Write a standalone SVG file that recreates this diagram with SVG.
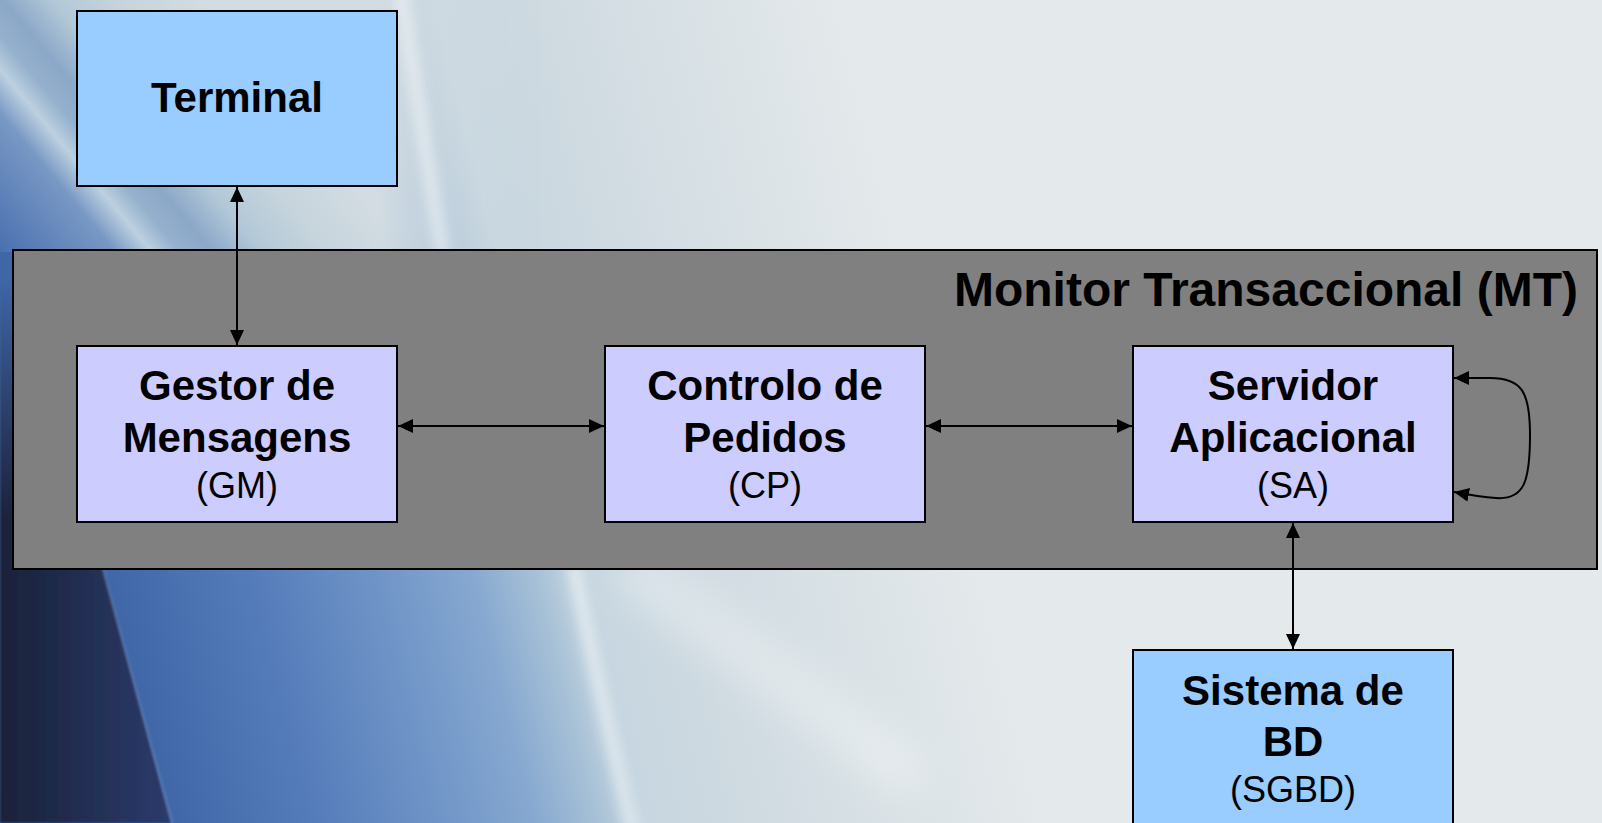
<svg xmlns="http://www.w3.org/2000/svg" width="1602" height="823" viewBox="0 0 1602 823">
  <defs>
    <!-- main tilted backdrop ramp: blue on the left to pale grey on the right -->
    <linearGradient id="bg" gradientUnits="userSpaceOnUse" x1="-50" y1="700" x2="950" y2="450">
      <stop offset="0" stop-color="#3a5e9e"/>
      <stop offset="0.18" stop-color="#4068a8"/>
      <stop offset="0.3" stop-color="#5279b8"/>
      <stop offset="0.42" stop-color="#6c92c6"/>
      <stop offset="0.52" stop-color="#86a8d0"/>
      <stop offset="0.58" stop-color="#a6c0d6"/>
      <stop offset="0.62" stop-color="#c6d6e0"/>
      <stop offset="0.7" stop-color="#cdd9e0"/>
      <stop offset="1" stop-color="#e4e9eb"/>
    </linearGradient>
    <!-- upper-left wash with its diagonal glint -->
    <linearGradient id="topwash" gradientUnits="userSpaceOnUse" x1="0" y1="250" x2="240" y2="50">
      <stop offset="0" stop-color="#4a70b0"/>
      <stop offset="0.28" stop-color="#7898c4"/>
      <stop offset="0.37" stop-color="#bcd0e0"/>
      <stop offset="0.44" stop-color="#94b0cc"/>
      <stop offset="0.52" stop-color="#8ca8c8"/>
      <stop offset="0.64" stop-color="#b2c8d8"/>
      <stop offset="0.8" stop-color="#c6d4dc"/>
      <stop offset="1" stop-color="#d2dce2"/>
    </linearGradient>
    <linearGradient id="fadeX" gradientUnits="userSpaceOnUse" x1="380" y1="0" x2="540" y2="0">
      <stop offset="0" stop-color="#fff"/>
      <stop offset="1" stop-color="#000"/>
    </linearGradient>
    <mask id="topMask" maskUnits="userSpaceOnUse" x="0" y="0" width="1602" height="260">
      <rect x="0" y="0" width="1602" height="260" fill="url(#fadeX)"/>
    </mask>
    <!-- dark navy band in the lower left -->
    <linearGradient id="navy" gradientUnits="userSpaceOnUse" x1="0" y1="0" x2="170" y2="0">
      <stop offset="0" stop-color="#1a2238"/>
      <stop offset="1" stop-color="#2b3b6c"/>
    </linearGradient>
    <linearGradient id="fadeY" gradientUnits="userSpaceOnUse" x1="0" y1="280" x2="0" y2="520">
      <stop offset="0" stop-color="#000"/>
      <stop offset="1" stop-color="#fff"/>
    </linearGradient>
    <mask id="navyMask" maskUnits="userSpaceOnUse" x="0" y="240" width="300" height="600">
      <rect x="0" y="240" width="300" height="600" fill="url(#fadeY)"/>
    </mask>
    <filter id="soft" x="-50%" y="-50%" width="200%" height="200%">
      <feGaussianBlur stdDeviation="6"/>
    </filter>
    <filter id="softer" x="-50%" y="-50%" width="200%" height="200%">
      <feGaussianBlur stdDeviation="18"/>
    </filter>
    <filter id="edge" x="-10%" y="-10%" width="120%" height="120%">
      <feGaussianBlur stdDeviation="1.2"/>
    </filter>
    <marker id="head" viewBox="0 0 15 14" refX="15" refY="7" markerWidth="15" markerHeight="14" markerUnits="userSpaceOnUse" orient="auto-start-reverse">
      <path d="M0,0 L15,7 L0,14 z" fill="#000"/>
    </marker>
  </defs>
  <style>
    .box { stroke: #000; stroke-width: 2; }
    .term { fill: #99ccff; }
    .comp { fill: #ccccff; }
    .mt { fill: #808080; stroke: #000; stroke-width: 2; }
    .b { font-family: "Liberation Sans", Arial, sans-serif; font-weight: bold; font-size: 42px; fill: #000; text-anchor: middle; }
    .r { font-family: "Liberation Sans", Arial, sans-serif; font-size: 36px; fill: #000; text-anchor: middle; }
    .title { font-family: "Liberation Sans", Arial, sans-serif; font-weight: bold; font-size: 48px; fill: #000; text-anchor: end; }
    .link { fill: none; stroke: #000; stroke-width: 2; marker-start: url(#head); marker-end: url(#head); }
    .streak { fill: none; stroke: #ffffff; stroke-linecap: round; }
  </style>

  <!-- backdrop -->
  <g id="backdrop">
    <rect width="1602" height="823" fill="url(#bg)"/>
    <rect x="0" y="0" width="1602" height="252" fill="url(#topwash)" mask="url(#topMask)"/>
    <polygon points="0,250 17,250 171,823 0,823" fill="url(#navy)" mask="url(#navyMask)" filter="url(#edge)"/>
    <path class="streak" d="M103,570 L172,823" stroke-width="3" opacity="0.12" filter="url(#edge)"/>
    <path class="streak" d="M400,-10 C415,80 428,170 442,250" stroke-width="14" opacity="0.45" filter="url(#soft)"/>
    <path class="streak" d="M574,570 C590,650 610,740 632,830" stroke-width="12" opacity="0.5" filter="url(#soft)"/>
    <path class="streak" d="M640,575 C720,630 800,690 900,770" stroke-width="50" opacity="0.3" filter="url(#softer)"/>
  </g>

  <!-- transaction monitor container -->
  <g id="mt">
    <rect class="mt" x="13" y="250" width="1584" height="319"/>
    <text class="title" x="1578" y="306">Monitor Transaccional (MT)</text>
  </g>

  <g id="terminal">
    <rect class="box term" x="77" y="11" width="320" height="175"/>
    <text class="b" x="237" y="112">Terminal</text>
  </g>

  <g id="gm">
    <rect class="box comp" x="77" y="346" width="320" height="176"/>
    <text class="b" x="237" y="400">Gestor de</text>
    <text class="b" x="237" y="452">Mensagens</text>
    <text class="r" x="237" y="498">(GM)</text>
  </g>

  <g id="cp">
    <rect class="box comp" x="605" y="346" width="320" height="176"/>
    <text class="b" x="765" y="400">Controlo de</text>
    <text class="b" x="765" y="452">Pedidos</text>
    <text class="r" x="765" y="498">(CP)</text>
  </g>

  <g id="sa">
    <rect class="box comp" x="1133" y="346" width="320" height="176"/>
    <text class="b" x="1293" y="400">Servidor</text>
    <text class="b" x="1293" y="452">Aplicacional</text>
    <text class="r" x="1293" y="498">(SA)</text>
  </g>

  <g id="sgbd">
    <rect class="box term" x="1133" y="650" width="320" height="176"/>
    <text class="b" x="1293" y="705">Sistema de</text>
    <text class="b" x="1293" y="756">BD</text>
    <text class="r" x="1293" y="802">(SGBD)</text>
  </g>

  <!-- connectors -->
  <g id="connectors">
    <path class="link" d="M237,187 L237,345"/>
    <path class="link" d="M398,426 L604,426"/>
    <path class="link" d="M926,426 L1132,426"/>
    <path class="link" d="M1293,523 L1293,649"/>
    <path class="link" d="M1454,378 L1490,378 C1522,378 1530,392 1530,435 C1530,482 1524,500 1496,498 C1482,497 1470,495 1454,492"/>
  </g>
</svg>
